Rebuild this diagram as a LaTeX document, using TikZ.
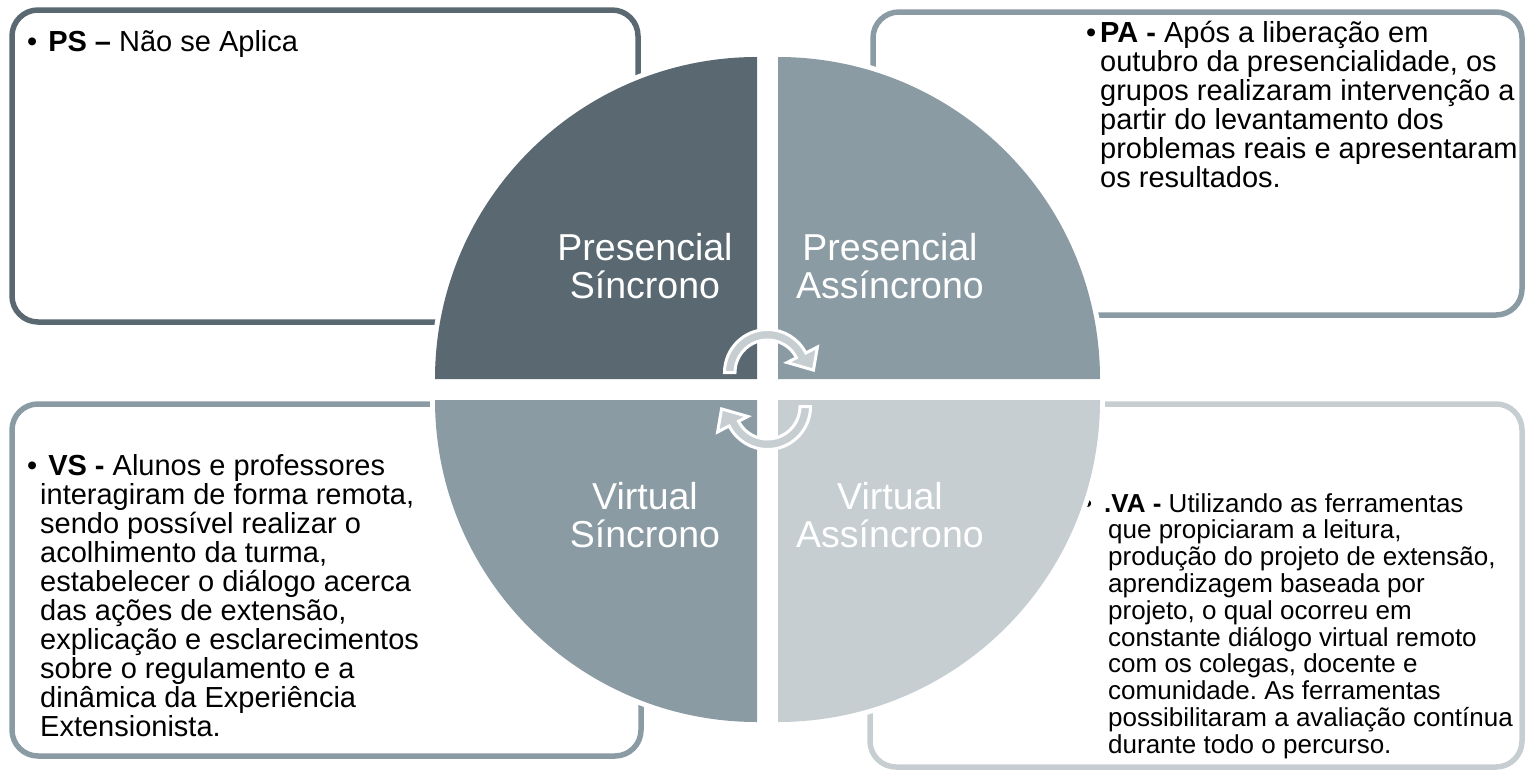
\documentclass[tikz,border=0pt]{standalone}
\usepackage{fontspec}
\setmainfont{Liberation Sans}
\definecolor{cdark}{HTML}{5A6971}
\definecolor{cmid}{HTML}{8A9BA4}
\definecolor{clight}{HTML}{C6CED2}
\tikzset{
  boxline/.style={line width=5.5pt, rounded corners=26pt},
  quad/.style={line width=10pt, draw=white, fill=white},
  qlabel/.style={text=white, align=center, inner sep=0pt, font=\fontsize{37.5}{38}\selectfont},
  btext/.style={anchor=base west, inner sep=0pt, text=black},
  cyc/.style={fill=clight, draw=white, line width=3pt, line join=miter},
}
\newcommand{\bodyA}{\fontsize{29}{29}\selectfont}
\newcommand{\bodyB}{\fontsize{26}{26.8}\selectfont}
\newcommand{\cycarrow}{%
  (180:43) arc[start angle=180, end angle=333, radius=43] -- (333:56) -- (357:46) -- (333:22) -- (333:32.5) arc[start angle=333, end angle=180, radius=32.5] -- cycle}
\frenchspacing
\begin{document}
\begin{tikzpicture}[x=1pt,y=-1pt]
\useasboundingbox (0,0) rectangle (1528,771);
% boxes
\draw[boxline, draw=cdark] (12,10) rectangle (638,322);
\draw[boxline, draw=cmid] (873,12) rectangle (1522,315);
\draw[boxline, draw=cmid] (12,404) rectangle (641,756);
\draw[boxline, draw=clight] (870,404) rectangle (1522,767);
% texts
\node[btext] (tps) at (40,51) {\parbox[t]{590pt}{\bodyA\raggedright
\hspace*{0pt}\llap{•\hspace{3pt}}\ \textbf{PS –} Não se Aplica}};
\node[btext] (tpa) at (1100,42) {\parbox[t]{425pt}{\bodyA\raggedright
\hspace*{0pt}\llap{•\hspace{4pt}}\textbf{PA -} Após a liberação em\\
outubro da presencialidade, os\\
grupos realizaram intervenção a\\
partir do levantamento dos\\
problemas reais e apresentaram\\
os resultados.}};
\node[btext] (tvs) at (40,475) {\parbox[t]{590pt}{\bodyA\raggedright
\hspace*{0pt}\llap{•\hspace{3pt}}\ \textbf{VS -} Alunos e professores\\
interagiram de forma remota,\\
sendo possível realizar o\\
acolhimento da turma,\\
estabelecer o diálogo acerca\\
das ações de extensão,\\
explicação e esclarecimentos\\
sobre o regulamento e a\\
dinâmica da Experiência\\
Extensionista.}};
\node[btext] (tva) at (1108,512) {\parbox[t]{420pt}{\bodyB\raggedright
\hspace*{-4pt}\llap{•\hspace{12pt}}\textbf{.VA -} Utilizando as ferramentas\\
que propiciaram a leitura,\\
produção do projeto de extensão,\\
aprendizagem baseada por\\
projeto, o qual ocorreu em\\
constante diálogo virtual remoto\\
com os colegas, docente e\\
comunidade. As ferramentas\\
possibilitaram a avaliação contínua\\
durante todo o percurso.}};
% white outline of the circle
\path[quad] (757,379) -- (435,379) arc[start angle=180, end angle=270, radius=322] -- cycle;
\path[quad] (778,379) -- (778,57) arc[start angle=270, end angle=360, radius=322] -- cycle;
\path[quad] (778,400) -- (1100,400) arc[start angle=0, end angle=90, radius=322] -- cycle;
\path[quad] (757,400) -- (757,722) arc[start angle=90, end angle=180, radius=322] -- cycle;
% quadrants
\fill[cdark] (757,379) -- (435,379) arc[start angle=180, end angle=270, radius=322] -- cycle;
\fill[cmid] (778,379) -- (778,57) arc[start angle=270, end angle=360, radius=322] -- cycle;
\fill[clight] (778,400) -- (1100,400) arc[start angle=0, end angle=90, radius=322] -- cycle;
\fill[cmid] (757,400) -- (757,722) arc[start angle=90, end angle=180, radius=322] -- cycle;
% labels
\node[qlabel] (ps) at (645,266) {Presencial\\Síncrono};
\node[qlabel] (pa) at (890,266) {Presencial\\Assíncrono};
\node[qlabel] (vs) at (645,515) {Virtual\\Síncrono};
\node[qlabel] (va) at (890,515) {Virtual\\Assíncrono};
% cycle arrows
\begin{scope}[shift={(767.5,372.5)}]
\path[cyc] \cycarrow;
\end{scope}
\begin{scope}[shift={(767.5,406.5)}, rotate=180]
\path[cyc] \cycarrow;
\end{scope}
\end{tikzpicture}
\end{document}
